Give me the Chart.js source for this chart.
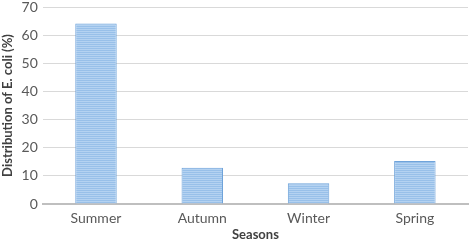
<!DOCTYPE html>
<html>
<head>
<meta charset="utf-8">
<script src="https://cdn.jsdelivr.net/npm/chart.js@4"></script>
<style>
  html, body { margin: 0; padding: 0; background: #fff; }
  #wrap { width: 472px; height: 241px; }
</style>
</head>
<body>
<div id="wrap"><canvas id="c"></canvas></div>
<script>
"use strict";
// Seasonal distribution of E. coli (%).
const seasons = ["Summer", "Autumn", "Winter", "Spring"];
const shares = [64.1, 12.9, 7.4, 15.3];
const yTicks = [0, 10, 20, 30, 40, 50, 60, 70];

// Excel-style horizontal pinstripe fill
function stripes() {
  const p = document.createElement("canvas");
  p.width = 4; p.height = 2;
  const g = p.getContext("2d");
  g.fillStyle = "#98c0e9"; g.fillRect(0, 0, 4, 2);
  g.fillStyle = "#b4d2f1"; g.fillRect(0, 1, 4, 1);
  return g.createPattern(p, "repeat");
}

Chart.defaults.font.family = "Lato, 'Open Sans', sans-serif";
Chart.defaults.color = "#595959";

new Chart(document.getElementById("c"), {
  type: "bar",
  data: {
    labels: seasons,
    datasets: [{
      data: shares,
      backgroundColor: stripes(),
      borderColor: "#6fa3da",
      borderWidth: 1,
      barPercentage: 0.39,
      categoryPercentage: 1,
    }],
  },
  options: {
    responsive: true, maintainAspectRatio: false, animation: false,
    layout: { padding: { top: -1, right: 4, left: 0, bottom: 0 } },
    plugins: { legend: { display: false }, tooltip: { enabled: false } },
    scales: {
      x: {
        // tick marks hidden; tickLength only spaces labels from the axis line
        grid: { display: false, drawTicks: true, tickLength: 7 },
        border: { color: "#bfbfbf", width: 2 },
        ticks: { font: { size: 14, lineHeight: 1 }, color: "#595959", padding: 0 },
        title: { display: true, text: "Seasons", font: { size: 13, weight: "bold", lineHeight: 1 }, color: "#404040", padding: { top: 3, bottom: 0 } },
      },
      y: {
        min: 0, max: 70,
        afterBuildTicks: (s) => { s.ticks = yTicks.map(v => ({ value: v })); },
        grid: { color: "#d9d9d9", drawTicks: true, tickLength: 5, tickColor: "rgba(0,0,0,0)" },
        border: { display: false },
        ticks: { font: { size: 14, lineHeight: 1 }, color: "#595959", padding: 0 },
        title: { display: true, text: "Distribution of E. coli (%)", font: { size: 13, weight: "bold" }, color: "#404040", padding: { top: 0, bottom: 6 } },
      },
    },
  },
});
</script>
</body>
</html>
